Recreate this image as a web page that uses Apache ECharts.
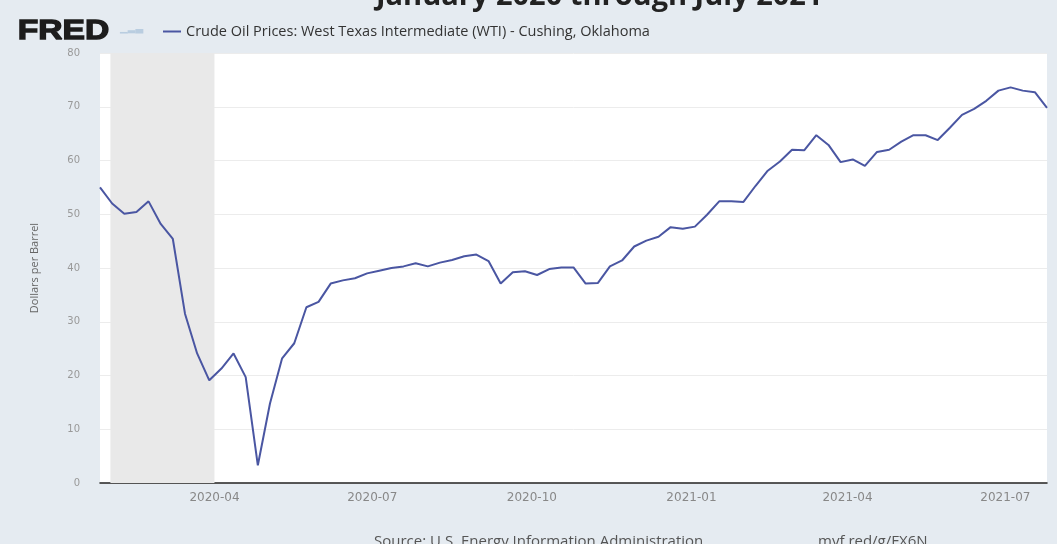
<!DOCTYPE html>
<html>
<head>
<meta charset="utf-8">
<script src="https://cdn.jsdelivr.net/npm/echarts@6/dist/echarts.min.js"></script>
<style>
html,body{margin:0;padding:0;background:#e5ebf1;}
#chart{width:1057px;height:544px;}
</style>
</head>
<body>
<div id="chart"></div>
<script>
// Weekly observations, first week plotted at 2020-01-26
var firstWeek = '2020-01-26';
var prices = [
  55.0, 52.0, 50.1, 50.4, 52.4, 48.2, 45.4, 31.5, 24.1, 19.1,
  21.3, 24.1, 19.7, 3.3, 14.8, 23.2, 26.0, 32.7, 33.7, 37.1,
  37.7, 38.1, 39.0, 39.5, 40.0, 40.3, 40.9, 40.3, 41.0, 41.5,
  42.2, 42.5, 41.3, 37.1, 39.2, 39.4, 38.7, 39.8, 40.1, 40.1,
  37.1, 37.2, 40.3, 41.4, 44.0, 45.1, 45.8, 47.6, 47.3, 47.7,
  49.9, 52.4, 52.4, 52.3, 55.3, 58.1, 59.8, 62.0, 61.9, 64.7,
  62.9, 59.7, 60.2, 59.0, 61.6, 62.0, 63.5, 64.7, 64.7, 63.8,
  66.1, 68.5, 69.6, 71.1, 73.0, 73.6, 73.0, 72.7, 69.8
];
var tickLabels = ['2020-04', '2020-07', '2020-10', '2021-01', '2021-04', '2021-07'];
var recession = ['2020-02-01', '2020-04-01'];
var seriesName = 'Crude Oil Prices: West Texas Intermediate (WTI) - Cushing, Oklahoma';
var titleText = 'January 2020 through July 2021';

function toTs(s) {
  var p = s.split('-').map(Number);
  return Date.UTC(p[0], p[1] - 1, p[2] || 1);
}
var DAY = 86400000;
var t0 = toTs(firstWeek);
var data = prices.map(function (v, i) { return [t0 + i * 7 * DAY, v]; });
var tickValues = tickLabels.map(toTs);

var chart = echarts.init(document.getElementById('chart'));
chart.setOption({
  backgroundColor: '#e5ebf1',
  animation: false,
  textStyle: { fontFamily: 'Open Sans' },
  graphic: [
    {
      type: 'text', left: 376, top: -18,
      style: { text: titleText, font: 'bold 29px "Open Sans"', fill: '#222' },
      z: 10
    },
    {
      type: 'text', left: 17, top: 17, scaleX: 1.2,
      style: { text: 'FRED', font: 'bold 28px "Liberation Sans"', fill: '#1c1c1c', stroke: '#1c1c1c', lineWidth: 1.3 }
    },
    {
      type: 'text', left: 120, top: 23,
      style: { text: '\u2581\u2582\u2583', font: '10px "DejaVu Sans"', fill: '#b9cde0' }
    },
    {
      type: 'text', left: 374, top: 534,
      style: { text: 'Source: U.S. Energy Information Administration', font: '15px "Open Sans"', fill: '#555' }
    },
    {
      type: 'text', left: 818, top: 534,
      style: { text: 'myf.red/g/FX6N', font: '15px "Open Sans"', fill: '#555' }
    }
  ],
  legend: {
    left: 158, top: 19,
    itemWidth: 18, itemHeight: 2, icon: 'rect', itemGap: 8,
    textStyle: { fontSize: 14.5, color: '#333', fontFamily: 'Open Sans' },
    data: [seriesName]
  },
  grid: { left: 100, right: 10, top: 53, bottom: 61, show: true, backgroundColor: '#ffffff', borderWidth: 0 },
  xAxis: {
    type: 'value',
    min: t0,
    max: t0 + (prices.length - 1) * 7 * DAY,
    axisLine: { show: true, lineStyle: { color: '#222', width: 1.5 } },
    axisTick: { show: false },
    splitLine: { show: false },
    axisLabel: {
      customValues: tickValues,
      margin: 9,
      fontSize: 12, color: '#888', fontFamily: 'DejaVu Sans',
      formatter: function (v) {
        var i = tickValues.indexOf(v);
        return i >= 0 ? tickLabels[i] : '';
      }
    }
  },
  yAxis: {
    type: 'value',
    min: 0, max: 80, interval: 10,
    name: 'Dollars per Barrel',
    nameLocation: 'middle',
    nameGap: 60,
    nameTextStyle: { fontSize: 11, color: '#666' },
    axisLine: { show: false },
    axisTick: { show: false },
    axisLabel: { fontSize: 10, color: '#999', margin: 20, fontFamily: 'DejaVu Sans' },
    splitLine: { show: true, lineStyle: { color: '#ececec', width: 1 } }
  },
  series: [{
    name: seriesName,
    type: 'line',
    data: data,
    showSymbol: false,
    symbol: 'none',
    lineStyle: { color: '#4a56a2', width: 2 },
    itemStyle: { color: '#4a56a2' },
    markArea: {
      silent: true,
      itemStyle: { color: '#e9e9e9' },
      data: [[{ xAxis: toTs(recession[0]) }, { xAxis: toTs(recession[1]) }]]
    }
  }]
});
</script>
</body>
</html>
